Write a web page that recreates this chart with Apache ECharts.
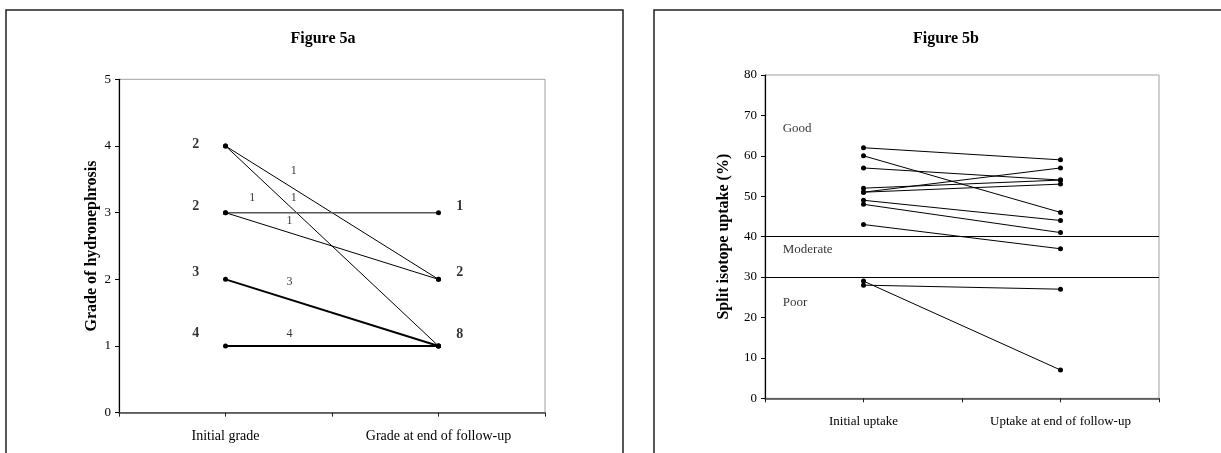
<!DOCTYPE html>
<html>
<head>
<meta charset="utf-8">
<script src="https://cdn.jsdelivr.net/npm/echarts@6/dist/echarts.min.js"></script>
<style>
  html, body { margin: 0; padding: 0; background: #fff; }
  #chart { width: 1221px; height: 453px; }
</style>
</head>
<body>
<div id="chart"></div>
<script>
  // Figure 5a: grade of hydronephrosis, initial -> end of follow-up
  var gradeCategories = ['', 'Initial grade', '', 'Grade at end of follow-up', ''];
  var gradeTicks = [0, 1, 2, 3, 4, 5];
  var gradeStart = [4, 4, 3, 3, 2, 1];
  var gradeEnd = [1, 2, 3, 2, 1, 1];
  var gradeStartCounts = [2, 2, 3, 4];   // patients at grade 4, 3, 2, 1
  var gradeEndCounts = [1, 2, 8];        // patients at grade 3, 2, 1
  var transitionCounts = ['1', '1', '1', '1', '3', '4'];

  // Figure 5b: split isotope uptake (%)
  var uptakeCategories = ['', 'Initial uptake', '', 'Uptake at end of follow-up', ''];
  var uptakeTicks = [0, 10, 20, 30, 40, 50, 60, 70, 80];
  var uptakeStart = [62, 60, 57, 52, 51, 51, 49, 48, 43, 29, 28];
  var uptakeEnd = [59, 46, 54, 54, 53, 57, 44, 41, 37, 7, 27];
  var uptakeBands = ['Good', 'Moderate', 'Poor'];
  var uptakeCutoffs = [40, 30];

  var serif = "'Liberation Serif', 'Times New Roman', serif";
  var myChart = echarts.init(document.getElementById('chart'));

  // where the annotation texts sit (data coordinates of grid 0 / grid 1)
  var startLabelPos = [[0.72, 4.03], [0.72, 3.09], [0.72, 2.11], [0.72, 1.19]];
  var endLabelPos = [[3.2, 3.09], [3.2, 2.11], [3.2, 1.17]];
  var transitionPos = [[1.64, 3.62], [1.25, 3.22], [1.64, 3.22], [1.6, 2.88], [1.6, 1.955], [1.6, 1.19]];
  var bandPos = [[0.18, 66.7], [0.18, 36.7], [0.18, 23.8]];

  function xAxisFor(idx, names, size) {
    return {
      type: 'value', gridIndex: idx, min: 0, max: 4, interval: 1,
      axisLine: { show: true, onZero: false, lineStyle: { color: '#444', width: 1.5 } },
      axisTick: { show: true, length: 4, lineStyle: { color: '#222' } },
      splitLine: { show: false },
      axisLabel: {
        margin: 17, color: '#000', fontFamily: serif, fontSize: size,
        formatter: function (v) { return names[Math.round(v)] || ''; }
      }
    };
  }

  function yAxisFor(idx, ticks, name, gap) {
    return {
      type: 'value', gridIndex: idx,
      min: ticks[0], max: ticks[ticks.length - 1], interval: ticks[1] - ticks[0],
      name: name, nameLocation: 'middle', nameGap: gap,
      nameTextStyle: { fontFamily: serif, fontSize: 16, fontWeight: 'bold', color: '#000' },
      axisLine: { show: true, lineStyle: { color: '#000', width: 1.2 } },
      axisTick: { show: true, length: 4, lineStyle: { color: '#000' } },
      splitLine: { show: false },
      axisLabel: { margin: 8, color: '#000', fontFamily: serif, fontSize: 13 }
    };
  }

  function textSeries(idx, pos, texts, bold, size) {
    return {
      type: 'scatter', xAxisIndex: idx, yAxisIndex: idx,
      symbolSize: 0, silent: true, z: 5,
      data: pos.map(function (p, i) { return { value: p, label: { formatter: String(texts[i]) } }; }),
      label: {
        show: true, position: 'inside', color: '#000',
        fontFamily: serif, fontSize: size, fontWeight: bold ? 'bold' : 'normal'
      }
    };
  }

  var series = [];

  gradeStart.forEach(function (a, i) {
    var b = gradeEnd[i];
    var color = '#000', width = 1;
    if (a === 3 && b === 3) { color = '#555'; width = 1.5; }
    if (b === 1 && (a === 2 || a === 1)) { width = 2; }
    series.push({
      type: 'line', xAxisIndex: 0, yAxisIndex: 0,
      data: [[1, a], [3, b]],
      symbol: 'circle', symbolSize: 5,
      itemStyle: { color: '#000' },
      lineStyle: { color: color, width: width },
      silent: true
    });
  });

  series.push(textSeries(0, startLabelPos, gradeStartCounts, true, 14));
  series.push(textSeries(0, endLabelPos, gradeEndCounts, true, 14));
  series.push(textSeries(0, transitionPos, transitionCounts, false, 12));

  uptakeStart.forEach(function (a, i) {
    var s = {
      type: 'line', xAxisIndex: 1, yAxisIndex: 1,
      data: [[1, a], [3, uptakeEnd[i]]],
      symbol: 'circle', symbolSize: 5,
      itemStyle: { color: '#000' },
      lineStyle: { color: '#000', width: 1 },
      silent: true
    };
    if (i === 0) {
      s.markLine = {
        silent: true, symbol: 'none', label: { show: false },
        lineStyle: { color: '#000', width: 1, type: 'solid' },
        data: uptakeCutoffs.map(function (c) { return { yAxis: c }; })
      };
    }
    series.push(s);
  });

  var bandSeries = textSeries(1, bandPos, uptakeBands, false, 13);
  bandSeries.label.position = 'right';
  bandSeries.label.distance = 0;
  series.push(bandSeries);

  myChart.setOption({
    animation: false,
    backgroundColor: '#fff',
    title: [
      { text: 'Figure 5a', left: 318, top: 26, textAlign: 'center',
        textStyle: { fontFamily: serif, fontSize: 16, fontWeight: 'bold', color: '#000' } },
      { text: 'Figure 5b', left: 941, top: 26, textAlign: 'center',
        textStyle: { fontFamily: serif, fontSize: 16, fontWeight: 'bold', color: '#000' } }
    ],
    graphic: [
      { type: 'rect', silent: true, shape: { x: 6, y: 10, width: 617, height: 470 },
        style: { fill: 'none', stroke: '#222', lineWidth: 1.5 } },
      { type: 'rect', silent: true, shape: { x: 654, y: 10, width: 600, height: 470 },
        style: { fill: 'none', stroke: '#222', lineWidth: 1.5 } }
    ],
    grid: [
      { left: 119, top: 79.3, width: 426, height: 333.4, show: true, borderColor: '#a0a0a0', borderWidth: 1 },
      { left: 765, top: 75, width: 394, height: 323.3, show: true, borderColor: '#a0a0a0', borderWidth: 1 }
    ],
    xAxis: [xAxisFor(0, gradeCategories, 14), xAxisFor(1, uptakeCategories, 13)],
    yAxis: [
      yAxisFor(0, gradeTicks, 'Grade of hydronephrosis', 19),
      yAxisFor(1, uptakeTicks, 'Split isotope uptake (%)', 33)
    ],
    series: series
  });
</script>
</body>
</html>
